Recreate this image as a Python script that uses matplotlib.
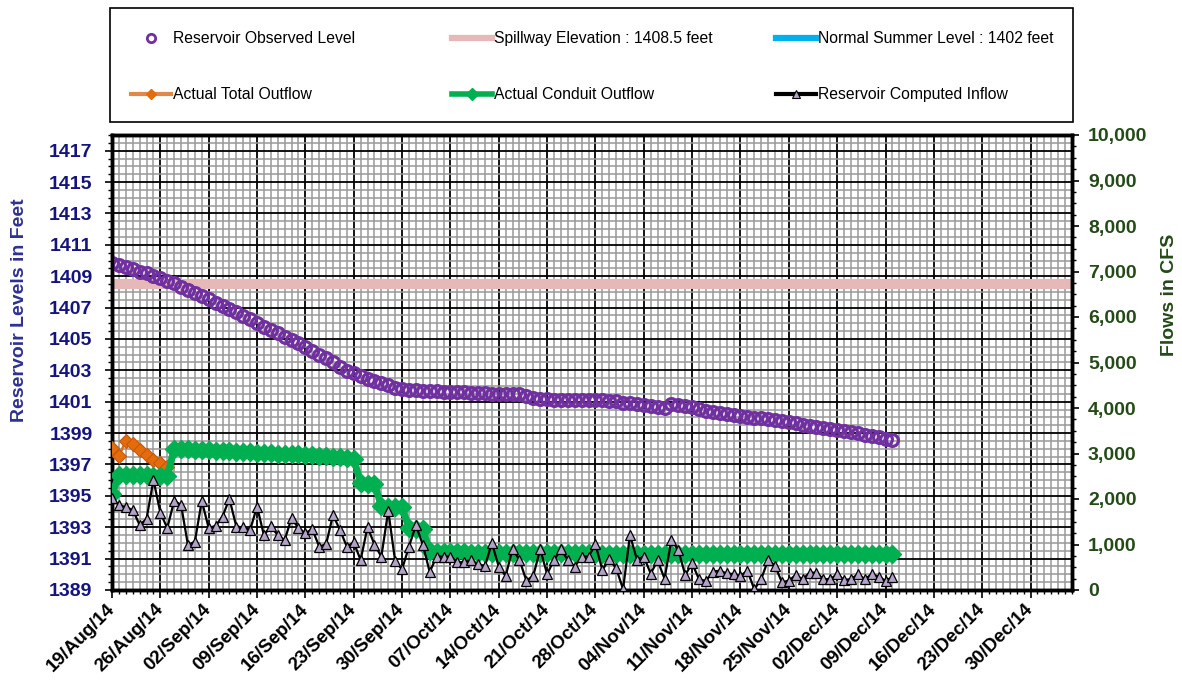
import pandas as pd
import matplotlib
matplotlib.use('Agg')
import matplotlib.pyplot as plt
import matplotlib.dates as mdates
from matplotlib.lines import Line2D
from matplotlib.patches import Rectangle
from matplotlib.ticker import MultipleLocator, FuncFormatter

plt.rcParams['font.family'] = ['Liberation Sans', 'DejaVu Sans']

# daily data, 19 Aug 2014 -> 10 Dec 2014
start_date = '2014-08-19'

observed_level = [
    1409.83, 1409.72, 1409.60, 1409.45, 1409.30, 1409.20, 1409.04, 1408.87, 1408.70, 1408.55,
    1408.34, 1408.13, 1407.96, 1407.74, 1407.53, 1407.32, 1407.10, 1406.90, 1406.70, 1406.47,
    1406.26, 1406.04, 1405.79, 1405.57, 1405.36, 1405.15, 1404.94, 1404.72, 1404.47, 1404.23,
    1403.98, 1403.77, 1403.51, 1403.23, 1402.98, 1402.81, 1402.62, 1402.45, 1402.33, 1402.20,
    1402.05, 1401.90, 1401.82, 1401.77, 1401.73, 1401.71, 1401.69, 1401.67, 1401.65, 1401.65,
    1401.62, 1401.60, 1401.58, 1401.56, 1401.56, 1401.52, 1401.52, 1401.49, 1401.50, 1401.48,
    1401.34, 1401.24, 1401.19, 1401.17, 1401.13, 1401.13, 1401.12, 1401.12, 1401.10, 1401.10,
    1401.10, 1401.08, 1401.06, 1401.02, 1400.90, 1400.90, 1400.86, 1400.82, 1400.74, 1400.68,
    1400.57, 1400.85, 1400.81, 1400.72, 1400.64, 1400.51, 1400.43, 1400.36, 1400.30, 1400.21,
    1400.15, 1400.09, 1400.04, 1399.98, 1399.97, 1399.91, 1399.83, 1399.77, 1399.68, 1399.62,
    1399.53, 1399.47, 1399.40, 1399.34, 1399.28, 1399.19, 1399.13, 1399.04, 1398.98, 1398.91,
    1398.83, 1398.72, 1398.64, 1398.55,
]

total_outflow = [3120, 2940, 3280, 3210, 3080, 2960, 2860, 2790, 2700, 3100]

conduit_outflow = [
    2100, 2530, 2530, 2520, 2520, 2520, 2510, 2510, 2500,
    3100, 3090, 3090, 3080, 3080, 3070, 3060, 3060, 3050, 3040,
    3040, 3030, 3020, 3020, 3010, 3000, 2990, 2990, 2980, 2970,
    2960, 2950, 2940, 2930, 2920, 2900, 2890,
    2350, 2340, 2340,
    1840, 1830, 1830, 1820,
    1360, 1350, 1350,
    850, 840, 840, 830, 830, 830, 820, 820, 820, 820,
    820, 820, 820, 810, 810, 810, 810, 810, 810, 810,
    810, 810, 810, 810, 800, 800, 800, 800, 800, 800,
    800, 800, 800, 800, 800, 800, 800, 800, 800, 800,
    800, 800, 800, 800, 790, 790, 790, 790, 790, 790,
    790, 790, 790, 790, 790, 790, 790, 790, 790, 790,
    790, 790, 790, 790, 790, 790, 790, 790,
]

computed_inflow = [
    2020, 1870, 1820, 1760, 1430, 1560, 2420, 1700, 1360, 1960,
    1870, 985, 1065, 1960, 1360, 1410, 1615, 2005, 1395, 1375,
    1320, 1835, 1200, 1410, 1200, 1100, 1580, 1360, 1250, 1335,
    955, 1005, 1650, 1320, 955, 1045, 660, 1385, 1000, 735,
    1745, 630, 455, 955, 1420, 1000, 395, 735, 735, 735,
    610, 610, 660, 565, 530, 1030, 515, 310, 905, 660,
    205, 315, 895, 350, 660, 895, 660, 515, 735, 735,
    1005, 440, 675, 475, 20, 1210, 670, 735, 360, 650,
    250, 1100, 875, 330, 585, 235, 200, 405, 425, 365,
    350, 310, 425, 15, 240, 660, 530, 170, 205, 330,
    235, 380, 380, 240, 240, 345, 220, 240, 345, 240,
    345, 295, 205, 280,
]

spillway = 1408.5

dates = pd.date_range(start_date, periods=len(observed_level), freq='D')

purple = '#7030A0'
pink = '#E6B9B8'
blue = '#00B0F0'
orange = '#E46C0A'
green = '#00B050'
lavender = '#B3A2C7'
navy = '#14147F'
dkgreen = '#234A17'

fig = plt.figure(figsize=(11.82, 6.82), dpi=100)
ax = fig.add_axes([112 / 1182, 92 / 682, 960 / 1182, 455 / 682])

ax.axhline(spillway, color=pink, lw=7.2, zorder=2)
ax.plot(dates, observed_level, ls='none', marker='o', ms=8.5, mfc='none',
        mec=purple, mew=2.3, zorder=3)

ax.set_xlim(pd.Timestamp('2014-08-19'), pd.Timestamp('2015-01-05'))
ax.set_ylim(1389, 1418)
ax.set_yticks(range(1389, 1418, 2))
ax.yaxis.set_minor_locator(MultipleLocator(0.5))
ax.xaxis.set_major_locator(mdates.WeekdayLocator(byweekday=mdates.TU))
ax.xaxis.set_minor_locator(mdates.DayLocator())
ax.xaxis.set_major_formatter(mdates.DateFormatter('%d/%b/%y'))

ax.grid(which='minor', color='#999999', lw=1.1)
ax.grid(which='major', color='black', lw=1.3)
ax.set_axisbelow(True)

ax.tick_params(axis='y', which='major', labelsize=14, labelcolor=navy, length=5, width=1.2, pad=9)
ax.tick_params(axis='y', which='minor', length=3, width=1)
ax.tick_params(axis='x', which='major', labelsize=13.5, length=6, width=1.2, pad=6)
ax.tick_params(axis='x', which='minor', length=3, width=1)
for lab in ax.get_yticklabels():
    lab.set_fontweight('bold')
for lab in ax.get_xticklabels():
    lab.set_fontweight('bold')
    lab.set_rotation(45)
    lab.set_ha('right')
    lab.set_va('center')
    lab.set_rotation_mode('anchor')

ax.set_ylabel('Reservoir Levels in Feet', fontsize=14, fontweight='bold', color='#2E3192')
ax.yaxis.set_label_coords(-0.087, 0.615)

for s in ax.spines.values():
    s.set_linewidth(2.5)

ax2 = ax.twinx()
ax2.plot(dates[:len(total_outflow)], total_outflow, color=orange, lw=1.8, marker='D',
         ms=7, mfc=orange, mec='#C55A11', mew=0.8, zorder=3)
ax2.plot(dates, conduit_outflow, color=green, lw=5, marker='D', ms=9.5,
         mfc=green, mec=green, zorder=4)
ax2.plot(dates, computed_inflow, color='black', lw=1.6, marker='^', ms=7,
         mfc=lavender, mec='black', mew=0.9, zorder=5)
ax2.set_ylim(0, 10000)
ax2.yaxis.set_major_locator(MultipleLocator(1000))
ax2.yaxis.set_minor_locator(MultipleLocator(250))
ax2.yaxis.set_major_formatter(FuncFormatter(lambda v, p: f'{int(v):,}'))
ax2.tick_params(axis='y', which='major', labelsize=14, labelcolor=dkgreen, length=5, width=1.2, pad=6.5)
ax2.tick_params(axis='y', which='minor', length=3, width=1)
for lab in ax2.get_yticklabels():
    lab.set_fontweight('bold')
ax2.set_ylabel('Flows in CFS', fontsize=14, fontweight='bold', color=dkgreen)
ax2.yaxis.set_label_coords(1.093, 0.648)
for s in ax2.spines.values():
    s.set_linewidth(2.5)

# legend box with three columns
fig.add_artist(Rectangle((110 / 1182, 1 - 122 / 682), 963 / 1182, 114 / 682,
                         transform=fig.transFigure, fill=False, ec='black', lw=1.2))

h_obs = Line2D([], [], ls='none', marker='o', ms=6, mfc='white', mec=purple, mew=2)
h_total = Line2D([], [], color='#E0874A', lw=3, marker='D', ms=5, mfc=orange, mec=orange)
h_spill = Line2D([], [], color=pink, lw=4.5)
h_conduit = Line2D([], [], color=green, lw=4, marker='D', ms=6, mfc=green, mec=green)
h_normal = Line2D([], [], color=blue, lw=4.5)
h_inflow = Line2D([], [], color='black', lw=3, marker='^', ms=6, mfc=lavender, mec='black', mew=0.8)

columns = [
    (131, [h_obs, h_total], ['Reservoir Observed Level', 'Actual Total Outflow']),
    (452, [h_spill, h_conduit], ['Spillway Elevation : 1408.5 feet', 'Actual Conduit Outflow']),
    (776, [h_normal, h_inflow], ['Normal Summer Level : 1402 feet', 'Reservoir Computed Inflow']),
]
for x, hs, ls in columns:
    fig.legend(hs, ls, loc='upper left', bbox_to_anchor=(x / 1182, 1 - 31 / 682),
               frameon=False, borderpad=0, borderaxespad=0, handlelength=2.55,
               handletextpad=0.1, labelspacing=2.62, fontsize=11.3)

fig.savefig('out.png', dpi=100)
